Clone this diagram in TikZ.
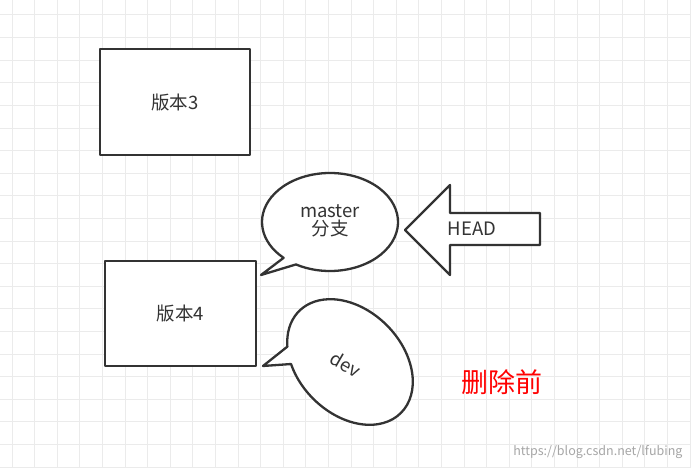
\documentclass[tikz,border=0pt]{standalone}
\usepackage{fontspec}
\setmainfont{Noto Sans CJK SC}
\begin{document}
\begin{tikzpicture}[x=1pt,y=1pt,
  shp/.style={draw=black!80,line width=2.3pt,fill=white,line join=round},
  lbl/.style={font=\fontsize{18.5}{21}\selectfont,text=black!80,align=center}]
\useasboundingbox (0,0) rectangle (691,467);
\fill[white] (0,0) rectangle (691,467);
\foreach \i in {0,...,30} {\draw[black!8,line width=1pt] ({12+22.6*\i},0) -- ++(0,467);}
\foreach \i in {0,...,20} {\draw[black!8,line width=1pt] (0,{452-22.6*\i}) -- ++(691,0);}
% boxes
\node[shp,minimum width=150pt,minimum height=106pt,lbl] (v3) at (175,365) {版本3};
\node[shp,minimum width=151pt,minimum height=105pt,lbl] (v4) at (180.5,153.5) {版本4};
% master callout
\coordinate (mtip) at (261,192);
\coordinate (mc) at (330,245);
\begin{scope}[shift={(mc)}]
\draw[shp] (mtip) -- (240:68 and 49) arc[start angle=240,end angle=587,x radius=68,y radius=49] -- cycle;
\end{scope}
\node[lbl] (m) at (330,246) {master\\[-3pt]分支};
% dev callout
\coordinate (dtip) at (263,101);
\coordinate (dc) at (350,105);
\begin{scope}[shift={(dc)},rotate=-45]
\draw[shp] (dtip) -- (236:72 and 52) arc[start angle=236,end angle=580,x radius=72,y radius=52] -- cycle;
\end{scope}
\node[lbl,rotate=-30] (d) at (346,103) {dev};
% HEAD arrow
\draw[shp] (405,237) coordinate (htip) -- (450,282) -- (450,254) -- (540,254) -- (540,222) -- (450,222) -- (450,192) -- cycle;
\node[lbl] (h) at (472,238) {HEAD};
\node[font=\fontsize{27}{30}\selectfont,text=red] (del) at (502,85) {删除前};
\node[font=\fontsize{12.5}{14}\selectfont,text=black!35,anchor=east] (wm) at (686,15) {https://blog.csdn.net/lfubing};
\end{tikzpicture}
\end{document}
